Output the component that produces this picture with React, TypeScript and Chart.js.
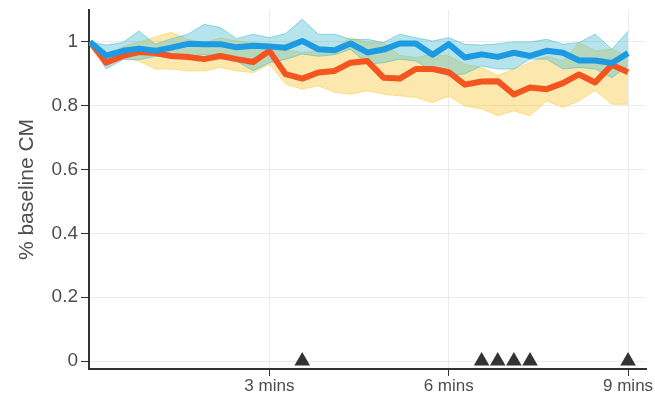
import { useEffect, useRef } from 'react';
import { Chart, registerables } from 'chart.js';

Chart.register(...registerables);

// time in minutes for each sample
const times = [
  0, 0.27, 0.55, 0.82, 1.09, 1.36, 1.64, 1.91, 2.18, 2.45, 2.73, 3.0,
  3.27, 3.55, 3.82, 4.09, 4.36, 4.64, 4.91, 5.18, 5.45, 5.73, 6.0,
  6.27, 6.55, 6.82, 7.09, 7.36, 7.64, 7.91, 8.18, 8.45, 8.73, 9.0,
];

const blueMean = [
  1.0, 0.957, 0.972, 0.979, 0.972, 0.982, 0.994, 0.993, 0.993, 0.983, 0.988, 0.986,
  0.982, 1.003, 0.977, 0.974, 0.995, 0.967, 0.976, 0.995, 0.995, 0.96, 0.993,
  0.951, 0.961, 0.953, 0.966, 0.956, 0.972, 0.966, 0.942, 0.942, 0.934, 0.965,
];
const blueUpper = [
  1.0, 0.99, 0.998, 1.034, 0.993, 1.01, 1.024, 1.055, 1.045, 1.01, 1.024, 1.013,
  1.026, 1.071, 1.024, 1.024, 1.008, 1.008, 0.998, 1.024, 1.013, 1.003, 1.013,
  0.993, 0.99, 0.994, 1.0, 1.0, 1.008, 0.993, 0.998, 1.024, 0.977, 1.034,
];
const blueLower = [
  1.0, 0.915, 0.945, 0.944, 0.955, 0.955, 0.955, 0.96, 0.955, 0.94, 0.91, 0.935,
  0.945, 0.962, 0.955, 0.96, 0.977, 0.93, 0.935, 0.946, 0.94, 0.909, 0.894,
  0.9, 0.925, 0.915, 0.915, 0.946, 0.946, 0.915, 0.92, 0.915, 0.888, 0.925,
];

const orangeMean = [
  1.0, 0.935, 0.956, 0.968, 0.965, 0.956, 0.953, 0.946, 0.956, 0.946, 0.937, 0.972,
  0.899, 0.885, 0.904, 0.909, 0.935, 0.94, 0.888, 0.885, 0.915, 0.915, 0.905,
  0.866, 0.876, 0.877, 0.835, 0.857, 0.852, 0.871, 0.898, 0.873, 0.928, 0.905,
];
const orangeUpper = [
  1.0, 0.955, 0.985, 1.0, 1.015, 1.03, 1.008, 0.998, 1.012, 1.003, 0.998, 0.993,
  0.975, 0.967, 0.972, 0.982, 1.013, 0.998, 0.998, 0.958, 0.951, 0.961, 0.956,
  0.93, 0.92, 0.895, 0.915, 0.935, 0.955, 0.94, 0.998, 0.972, 0.977, 0.956,
];
const orangeLower = [
  1.0, 0.93, 0.951, 0.94, 0.915, 0.915, 0.909, 0.909, 0.92, 0.909, 0.904, 0.93,
  0.868, 0.852, 0.863, 0.842, 0.836, 0.847, 0.836, 0.831, 0.826, 0.81, 0.83,
  0.8, 0.79, 0.769, 0.784, 0.769, 0.815, 0.795, 0.815, 0.848, 0.805, 0.805,
];

// event markers along the baseline
const eventTimes = [3.55, 6.55, 6.82, 7.09, 7.36, 9.0];
const eventValue = 0;

const xTickValues = [3, 6, 9];
const xTickLabels = ['3 mins', '6 mins', '9 mins'];
const yTickValues = [0, 0.2, 0.4, 0.6, 0.8, 1];
const yTickLabels = ['0', '0.2', '0.4', '0.6', '0.8', '1'];
const yTitle = '% baseline CM';

const pts = (arr: number[]) => arr.map((v, i) => ({ x: times[i], y: v }));

export default function App() {
  const ref = useRef<HTMLCanvasElement>(null);
  useEffect(() => {
    if (!ref.current) return;
    const font = "'Liberation Sans', Arial, sans-serif";
    const textColor = '#4d4d4d';
    const chart = new Chart(ref.current, {
      type: 'line',
      data: {
        datasets: [
          {
            data: pts(blueMean), borderColor: '#1c9be2', borderWidth: 6,
            pointRadius: 0, fill: false, tension: 0, order: 0,
            borderJoinStyle: 'round',
          },
          {
            data: pts(orangeMean), borderColor: '#f4541f', borderWidth: 6,
            pointRadius: 0, fill: false, tension: 0, order: 1,
            borderJoinStyle: 'round',
          },
          {
            data: pts(blueUpper), borderColor: 'rgba(80,190,210,0.6)', borderWidth: 1,
            backgroundColor: 'rgba(80,190,210,0.42)', pointRadius: 0, fill: '+1',
            tension: 0, order: 2,
          },
          {
            data: pts(blueLower), borderColor: 'rgba(80,190,210,0.6)', borderWidth: 1,
            pointRadius: 0, fill: false, tension: 0, order: 2,
          },
          {
            data: pts(orangeUpper), borderColor: 'rgba(248,205,70,0.55)', borderWidth: 1,
            backgroundColor: 'rgba(248,205,70,0.45)', pointRadius: 0, fill: '+1',
            tension: 0, order: 3,
          },
          {
            data: pts(orangeLower), borderColor: 'rgba(248,205,70,0.55)', borderWidth: 1,
            pointRadius: 0, fill: false, tension: 0, order: 3,
          },
          {
            data: eventTimes.map((t) => ({ x: t, y: eventValue })),
            showLine: false, pointStyle: 'triangle', pointRadius: 9,
            pointBackgroundColor: '#333333', pointBorderWidth: 0,
            borderColor: '#333333', order: -1, clip: false,
          },
        ],
      },
      options: {
        animation: false,
        responsive: false,
        maintainAspectRatio: false,
        layout: { padding: { top: 10, right: 0, left: 0, bottom: 0 } },
        plugins: { legend: { display: false }, tooltip: { enabled: false } },
        scales: {
          x: {
            type: 'linear',
            min: -0.0167,
            max: 9.3,
            afterBuildTicks: (s: any) => { s.ticks = xTickValues.map((v) => ({ value: v })); },
            afterFit: (s: any) => { s.height = 34; s.paddingLeft = 0; s.paddingRight = 0; },
            ticks: {
              callback: (v: any) => xTickLabels[xTickValues.indexOf(Number(v))] ?? '',
              color: textColor, font: { family: font, size: 17 }, padding: 0,
              maxRotation: 0, autoSkip: false,
            },
            grid: { color: '#ebebeb', lineWidth: 1, tickColor: '#333', tickLength: 7 },
            border: { color: '#333', width: 2 },
          },
          y: {
            type: 'linear',
            min: -0.025,
            max: 1.1,
            afterBuildTicks: (s: any) => { s.ticks = yTickValues.map((v) => ({ value: v })); },
            afterFit: (s: any) => { s.width = 89; s.paddingTop = 0; s.paddingBottom = 0; },
            ticks: {
              callback: (v: any) => {
                const i = yTickValues.findIndex((t) => Math.abs(t - Number(v)) < 1e-6);
                return i >= 0 ? yTickLabels[i] : '';
              },
              color: textColor, font: { family: font, size: 19 }, padding: 3,
              autoSkip: false,
            },
            title: {
              display: true, text: yTitle, color: textColor,
              font: { family: font, size: 21 }, padding: { top: 15, bottom: 0 },
            },
            grid: { color: '#ebebeb', lineWidth: 1, tickColor: '#333', tickLength: 8 },
            border: { color: '#333', width: 2 },
          },
        },
      },
    } as any);
    return () => chart.destroy();
  }, []);
  return (
    <div style={{ position: 'fixed', left: 0, top: 0, width: 655, height: 403, background: '#fff' }}>
      <canvas ref={ref} width={655} height={403} style={{ width: 655, height: 403 }} />
    </div>
  );
}
